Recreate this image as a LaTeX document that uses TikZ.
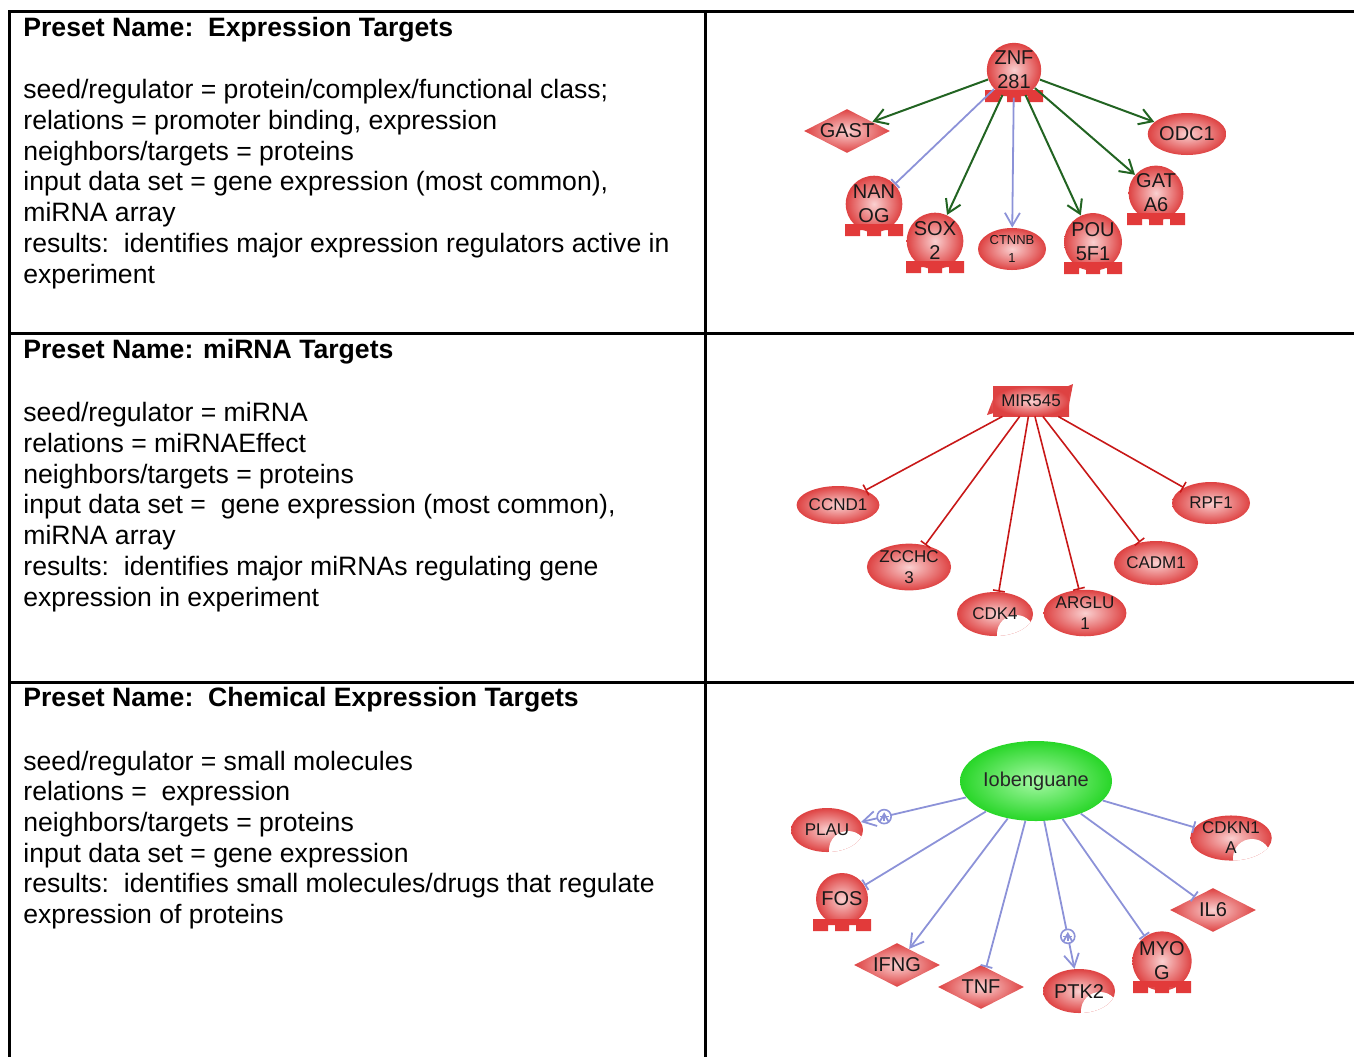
\documentclass[tikz,border=0pt]{standalone}
\usepackage{fontspec}
\setmainfont{Liberation Sans}
\usetikzlibrary{shapes.geometric, arrows.meta, backgrounds}

\definecolor{actgreen}{RGB}{34,100,34}
\definecolor{lavender}{RGB}{140,146,216}
\definecolor{mirred}{RGB}{200,24,24}
\definecolor{ballin}{RGB}{250,208,208}
\definecolor{ballout}{RGB}{222,66,66}
\definecolor{basered}{RGB}{226,58,58}
\definecolor{chemin}{RGB}{165,248,165}
\definecolor{chemout}{RGB}{40,214,40}

\tikzset{
    cell/.style={anchor=base west, align=left, inner sep=0pt, font=\fontsize{13.3}{15.35}\selectfont},
    cellhead/.style={cell, font=\fontsize{13.3}{15.35}\selectfont\bfseries},
    gene/.style={inner sep=0pt, align=center, text=black!90, inner color=ballin, outer color=ballout, font=\fontsize{10}{12}\selectfont},
    tf/.style={gene, circle, minimum size=26pt},
    prot/.style={gene, ellipse, minimum width=38pt, minimum height=21pt},
    lig/.style={gene, diamond, aspect=2, minimum width=43pt, minimum height=22pt},
    kin/.style={gene, ellipse, minimum width=36pt, minimum height=22pt,
        path picture={\fill[white] ([shift={(10.5pt,-10pt)}]path picture bounding box.center) circle (9.5pt);}},
    chem/.style={ellipse, inner sep=0pt, inner color=chemin, outer color=chemout, text=black!85,
        minimum width=76pt, minimum height=40pt, font=\fontsize{10}{12}\selectfont},
    act/.style={draw=actgreen, line width=1pt, -{Straight Barb[length=6.5pt,width=8pt,line width=1pt]}},
    lavarr/.style={draw=lavender, line width=0.9pt, -{Straight Barb[length=6.5pt,width=7.5pt,line width=0.9pt]}},
    lavbar/.style={draw=lavender, line width=0.9pt, -{Bar[width=6pt]}},
    mirbar/.style={draw=mirred, line width=0.8pt, -{Bar[width=6pt]}},
    plusmark/.style={circle, draw=lavender, fill=white, line width=0.8pt, minimum size=7pt, inner sep=0pt,
        path picture={\draw[lavender, line width=0.7pt]
            ([xshift=-2.2pt]path picture bounding box.center) -- ([xshift=2.2pt]path picture bounding box.center)
            ([yshift=-2.2pt]path picture bounding box.center) -- ([yshift=2.2pt]path picture bounding box.center);}},
    grid line/.style={line width=1.5pt}
}

% comb under the transcription factor circles
\newcommand{\tfbase}[1]{\fill[basered, shift={(#1.center)}] (-14.5pt,-10pt) -- (14.5pt,-10pt) -- (14.5pt,-16pt)
    -- (7pt,-16pt) -- (7pt,-13pt) -- (3.5pt,-13pt) -- (3.5pt,-16pt) -- (-3.5pt,-16pt) -- (-3.5pt,-13pt)
    -- (-7pt,-13pt) -- (-7pt,-16pt) -- (-14.5pt,-16pt) -- cycle;}

\begin{document}
\begin{tikzpicture}[x=0.5pt, y=-0.5pt]
    \useasboundingbox (0,0) rectangle (1354,1057);

    % table
    \draw[grid line] (8,11) -- (1354,11);
    \draw[grid line] (8,333) -- (1354,333);
    \draw[grid line] (8,682) -- (1354,682);
    \draw[grid line] (9,10) -- (9,1057);
    \draw[grid line] (705,10) -- (705,1057);

    % left column (text nodes sit on the baseline of their last line)
    \node[cellhead] (headexpr) at (23,36.5) {Preset Name:\ \ Expression Targets};
    \node[cell] (textexpr) at (23,283) {seed/regulator = protein/complex/functional class;\\
        relations = promoter binding, expression\\
        neighbors/targets = proteins\\
        input data set = gene expression (most common),\\
        miRNA array\\
        results:\ \ identifies major expression regulators active in\\
        experiment};

    \node[cellhead] (headmir) at (23,358.5) {Preset Name: miRNA Targets};
    \node[cell] (textmir) at (23,606) {seed/regulator = miRNA\\
        relations = miRNAEffect\\
        neighbors/targets = proteins\\
        input data set =\ \ gene expression (most common),\\
        miRNA array\\
        results:\ \ identifies major miRNAs regulating gene\\
        expression in experiment};

    \node[cellhead] (headchem) at (23,706.5) {Preset Name:\ \ Chemical Expression Targets};
    \node[cell] (textchem) at (23,923.5) {seed/regulator = small molecules\\
        relations =\ \ expression\\
        neighbors/targets = proteins\\
        input data set = gene expression\\
        results:\ \ identifies small molecules/drugs that regulate\\
        expression of proteins};

    % expression targets
    \node[tf] (znf) at (1014,70) {ZNF\\281};
    \node[lig] (gast) at (847,131) {GAST};
    \node[prot] (odc) at (1187,134) {ODC1};
    \node[tf] (nanog) at (874,204) {NAN\\OG};
    \node[tf] (sox) at (935,241) {SOX\\2};
    \node[prot, minimum width=34pt, font=\fontsize{6.5}{9}\selectfont] (ctnnb) at (1012,249) {CTNNB\\1};
    \node[tf] (pou) at (1093,242) {POU\\5F1};
    \node[tf] (gata) at (1156,193) {GAT\\A6};
    \tfbase{znf} \tfbase{nanog} \tfbase{sox} \tfbase{pou} \tfbase{gata}

    \draw[act] (znf) -- (gast);
    \draw[act] (znf) -- (odc);
    \draw[lavbar] (znf) -- (nanog);
    \draw[act] (znf) -- (sox);
    \draw[lavarr] (znf) -- (ctnnb);
    \draw[act] (znf) -- (pou);
    \draw[act] (znf) -- (gata);

    % miRNA targets
    \node[gene, minimum width=38pt, minimum height=15pt, font=\fontsize{8.5}{10}\selectfont] (mir) at (1031,401) {MIR545};
    \begin{scope}[on background layer]
        \shade[inner color=ballin, outer color=ballout, shift={(mir.center)}] (-18pt,3.5pt)
            .. controls (-10pt,11pt) and (8pt,2pt) .. (21pt,8.5pt) -- (18pt,-7pt)
            .. controls (8pt,-11pt) and (-8pt,-2pt) .. (-22pt,-7pt) -- cycle;
    \end{scope}
    \node[prot, minimum width=39pt, minimum height=19pt, font=\fontsize{8.5}{10}\selectfont] (ccnd) at (838,505) {CCND1};
    \node[prot, minimum width=37pt, minimum height=22pt, font=\fontsize{8.5}{10.5}\selectfont] (zcchc) at (909,567) {ZCCHC\\3};
    \node[kin, minimum width=38pt, font=\fontsize{8.5}{10}\selectfont] (cdk) at (995,614) {CDK4};
    \node[prot, minimum width=38pt, minimum height=21pt, font=\fontsize{8.5}{10.5}\selectfont] (arglu) at (1085,613) {ARGLU\\1};
    \node[prot, minimum width=38pt, minimum height=22pt, font=\fontsize{8.5}{10}\selectfont] (cadm) at (1156,563) {CADM1};
    \node[prot, minimum width=39pt, minimum height=21pt, font=\fontsize{8.5}{10}\selectfont] (rpf) at (1211,503) {RPF1};

    \draw[mirbar] (mir) -- (ccnd);
    \draw[mirbar] (mir) -- (zcchc);
    \draw[mirbar] (mir) -- (cdk);
    \draw[mirbar] (mir) -- (arglu);
    \draw[mirbar] (mir) -- (cadm);
    \draw[mirbar] (mir) -- (rpf);

    % chemical expression targets
    \node[chem] (iob) at (1036,781) {Iobenguane};
    \node[kin, font=\fontsize{8.5}{10}\selectfont] (plau) at (827,830) {PLAU};
    \node[kin, minimum width=38pt, font=\fontsize{8.5}{10}\selectfont] (cdkn) at (1231,838) {CDKN1\\A};
    \node[tf] (fos) at (842,899) {FOS};
    \node[lig] (il) at (1213,910) {IL6};
    \node[lig] (ifng) at (897,965) {IFNG};
    \node[lig] (tnf) at (981,987) {TNF};
    \node[kin] (ptk) at (1079,991) {PTK2};
    \node[tf] (myog) at (1162,961) {MYO\\G};
    \tfbase{fos} \tfbase{myog}

    \draw[lavarr] (iob) -- (plau) node[plusmark, pos=0.78] (plauplus) {};
    \draw[lavbar] (iob) -- (fos);
    \draw[lavarr] (iob) -- (ifng);
    \draw[lavbar] (iob) -- (tnf);
    \draw[lavarr] (iob) -- (ptk) node[plusmark, pos=0.78] (ptkplus) {};
    \draw[lavbar] (iob) -- (myog);
    \draw[lavbar] (iob) -- (il);
    \draw[lavbar] (iob) -- (cdkn);
\end{tikzpicture}
\end{document}
